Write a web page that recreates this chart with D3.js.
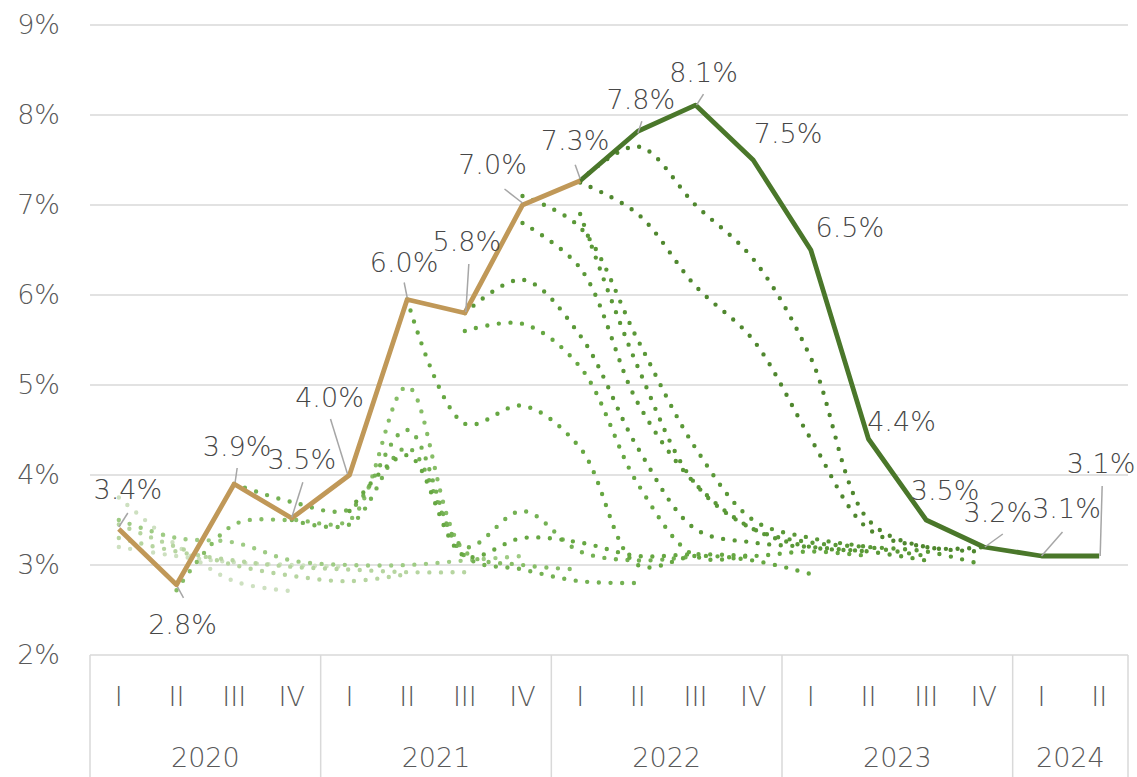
<!DOCTYPE html>
<html><head><meta charset="utf-8">
<script src="https://cdn.jsdelivr.net/npm/d3@7/dist/d3.min.js"></script>
<style>
body{margin:0;background:#fff;}
svg text{font-family:"DejaVu Sans",sans-serif;font-weight:200;}
</style></head><body>
<svg id="chart" width="1137" height="777"></svg>
<script>
// ---------- DATA ----------
const quarterLabels = ["I","II","III","IV","I","II","III","IV","I","II","III","IV","I","II","III","IV","I","II"];
const yearLabels = ["2020","2021","2022","2023","2024"];
const yearQuarterCounts = [4,4,4,4,2];
const yTicks = [2,3,4,5,6,7,8,9];

// actual (tan) : quarters 0..8
const actualValues = [3.4, 2.78, 3.9, 3.52, 4.0, 5.95, 5.8, 7.0, 7.27];
const actualLabels = ["3.4%","2.8%","3.9%","3.5%","4.0%","6.0%","5.8%","7.0%","7.3%"];
// latest forecast (solid green) : quarters 8..17
const latestValues = [7.27, 7.82, 8.11, 7.5, 6.5, 4.4, 3.5, 3.2, 3.1, 3.1];
const latestLabels = [null,"7.8%","8.1%","7.5%","6.5%","4.4%","3.5%","3.2%","3.1%","3.1%"];

// earlier forecasts (dotted): start quarter, shade, values
const fc01 = [3.75, 3.22, 2.82, 2.71];
const fc02 = [3.2, 3.1, 3.03, 3.0, 2.98];
const fc03 = [3.45, 3.2, 3.0, 2.88, 2.82, 2.9];
const fc04 = [3.3, 3.15, 3.05, 2.98, 2.95, 2.92, 2.92];
const fc05 = [3.5, 3.3, 3.25, 3.05, 3.0, 3.0, 3.05, 3.1];
const fc06 = [2.72, 3.45, 3.5, 3.5, 4.98, 3.15, 3.0, 2.95];
const fc07 = [3.9, 3.7, 3.62, 4.5, 3.1, 2.95, 2.82, 2.8];
const fc08 = [3.5, 3.45, 4.3, 3.2, 3.6, 3.15, 3.05, 3.1];
const fc09 = [3.6, 4.22, 3.1, 3.3, 3.25, 3.1, 3.12, 3.1];
const fc10 = [5.95, 4.57, 4.77, 4.3, 3.0, 3.1, 3.05, 2.9];
const fc11 = [5.6, 5.68, 5.2, 3.9, 3.1, 3.1, 3.15, 3.1];
const fc12 = [5.8, 6.17, 5.55, 4.3, 3.4, 3.25, 3.2, 3.15];
const fc13 = [6.8, 6.3, 4.8, 3.9, 3.4, 3.2, 3.15, 3.05];
const fc14 = [7.1, 6.75, 5.5, 4.3, 3.5, 3.3, 3.2, 3.1];
const fc15 = [6.9, 5.2, 3.9, 3.4, 3.25, 3.2, 3.15, 3.0];
const fc16 = [7.25, 6.9, 6.1, 5.5, 4.4, 3.4, 3.2, 3.15];
const fc17 = [7.27, 7.65, 7.0, 6.4, 5.3, 3.5, 3.2, 3.2];
const fcStarts = [0,0,0,0,0,1,2,3,4,5,6,6,7,7,8,8,8];
const fcShades = [0,0,1,1,2,3,4,4,5,5,5,6,6,6,6,7,7];
const fcSeries = [fc01,fc02,fc03,fc04,fc05,fc06,fc07,fc08,fc09,fc10,fc11,fc12,fc13,fc14,fc15,fc16,fc17];

// ---------- LAYOUT / STYLE ----------
const shadeColors = ["#cde0c0","#b6d5a0","#9ecb84","#86bd66","#74b153","#66a742","#5a9837","#4f872e"];
const tanColor = "#c09858", greenColor = "#4a772a", textColor = "#595959";
const FS = 27;
const W = 1137, H = 777;
const M = {left:90, right:1128, top:25, bottom:655};
// label offsets (text centre relative to point) and leader-line offsets
const actualLabelOff = [[9,-40],[6,39],[3,-38],[10,-59],[-20,-78],[-3,-38],[2,-72],[-30,-41],[-5,-41]];
const actualLeader = [[0,-2,9,-16],[1,2,7,13],[1,-2,3,-16],[0,-1,11,-36],[-2,-1,-19,-56],[0,-2,-3,-17],[1,-1,4,-49],[0,-2,-18,-16],[0,-2,-5,-16]];
const latestLabelOff = [null,[3,-32],[8,-33],[35,-27],[39,-23],[33,-18],[19,-30],[14,-35],[25,-48],[2,-93]];
const latestLeader = [null,[0,2,4,-10],[1,0,8,-11],null,null,null,null,[1,0,19,-13],[0,0,21,-24],[1,0,3,-70]];

const svg = d3.select("#chart");
const x = d3.scaleBand().domain(d3.range(quarterLabels.length)).range([M.left, M.right]).padding(0);
const cx = i => x(i) + x.bandwidth()/2;
const y = d3.scaleLinear().domain([2,9]).range([M.bottom, M.top]);

// gridlines
svg.append("g").selectAll("line").data(yTicks).join("line")
  .attr("x1", M.left).attr("x2", M.right)
  .attr("y1", d=>y(d)).attr("y2", d=>y(d))
  .attr("stroke","#d9d9d9").attr("stroke-width",1.5);

// y axis labels
const yAxis = svg.append("g").attr("transform",`translate(${M.left},0)`)
  .call(d3.axisLeft(y).tickValues(yTicks).tickFormat(d=>d+"%").tickSize(0).tickPadding(30));
yAxis.select(".domain").remove();
yAxis.attr("font-family",null).attr("font-size",null);
yAxis.selectAll("text").attr("font-size",FS).attr("fill",textColor);

// x axis: quarters
const xAxis = svg.append("g").attr("transform",`translate(0,${M.bottom})`)
  .call(d3.axisBottom(x).tickFormat(i=>quarterLabels[i]).tickSize(0).tickPadding(32));
xAxis.select(".domain").remove();
xAxis.attr("font-family",null).attr("font-size",null);
xAxis.selectAll("text").attr("font-size",FS).attr("fill",textColor);

// year groups
let acc = 0;
const yearBounds = yearQuarterCounts.map(n => { const s = acc; acc += n; return [s, acc-1]; });
const sepX = [M.left].concat(yearBounds.map(b => x(b[1]) + x.bandwidth()));
svg.append("g").selectAll("line").data(sepX).join("line")
  .attr("x1",d=>d).attr("x2",d=>d).attr("y1",M.bottom).attr("y2",H)
  .attr("stroke","#d9d9d9").attr("stroke-width",1.5);
svg.append("g").selectAll("text").data(yearLabels).join("text")
  .attr("x",(d,i)=>(x(yearBounds[i][0]) + x(yearBounds[i][1]) + x.bandwidth())/2)
  .attr("y",767).attr("text-anchor","middle").attr("font-size",FS).attr("fill",textColor)
  .text(d=>d);

// dotted forecast lines
const smooth = d3.line().x(d=>cx(d.i)).y(d=>y(d.v)).curve(d3.curveCatmullRom.alpha(0.5));
svg.append("g").selectAll("path").data(fcSeries.map((s,k)=>({k, pts:s.map((v,j)=>({i:fcStarts[k]+j, v}))})))
  .join("path")
  .attr("d", d=>smooth(d.pts))
  .attr("fill","none")
  .attr("stroke", d=>shadeColors[fcShades[d.k]])
  .attr("stroke-width",4.4)
  .attr("stroke-linecap","round")
  .attr("stroke-dasharray","0 11.6");

// solid lines
const straight = d3.line().x(d=>cx(d.i)).y(d=>y(d.v));
const actualPts = actualValues.map((v,i)=>({i, v}));
const latestPts = latestValues.map((v,j)=>({i:8+j, v}));
svg.append("path").attr("d",straight(latestPts)).attr("fill","none").attr("stroke",greenColor).attr("stroke-width",4.8).attr("stroke-linejoin","round");
svg.append("path").attr("d",straight(actualPts)).attr("fill","none").attr("stroke",tanColor).attr("stroke-width",4.8).attr("stroke-linejoin","round");

// labels + leader lines
function drawLabels(pts, labels, offs, leaders){
  const g = svg.append("g");
  pts.forEach((p,k)=>{
    if(!labels[k]) return;
    const px = cx(p.i), py = y(p.v);
    if(leaders[k]){
      const L = leaders[k];
      g.append("line").attr("x1",px+L[0]).attr("y1",py+L[1]).attr("x2",px+L[2]).attr("y2",py+L[3])
        .attr("stroke","#a6a6a6").attr("stroke-width",1.5);
    }
    g.append("text").attr("x",px+offs[k][0]).attr("y",py+offs[k][1]+10)
      .attr("text-anchor","middle").attr("font-size",FS).attr("fill","#474747").text(labels[k]);
  });
}
drawLabels(actualPts, actualLabels, actualLabelOff, actualLeader);
drawLabels(latestPts, latestLabels, latestLabelOff, latestLeader);
</script>
</body></html>
